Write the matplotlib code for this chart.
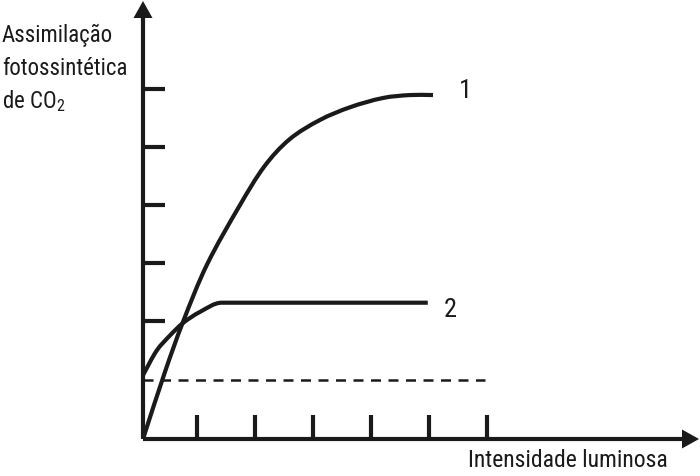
import matplotlib
matplotlib.use("Agg")
import math
import matplotlib.pyplot as plt
from matplotlib.path import Path
from matplotlib.patches import PathPatch

# ---- data (units: one tick spacing) ----
curve1_x = [0, 0.38, 0.69, 1.10, 1.67, 2.10, 2.53, 3.05, 3.57, 4.14, 4.60, 5.00]
curve1_y = [0, 1.16, 2.02, 3.00, 4.03, 4.71, 5.17, 5.50, 5.72, 5.88, 5.93, 5.93]

curve2_x = [0, 0.24, 0.47, 0.69, 0.98, 1.36, 4.91]
curve2_y = [1.10, 1.53, 1.79, 2.00, 2.19, 2.35, 2.35]

dashed_x = [0, 5.9]
dashed_y = [1.02, 1.02]

x_ticks = [0.93, 1.93, 2.93, 3.93, 4.93, 5.93]
y_ticks = [2.03, 3.03, 4.03, 5.03, 6.03]

y_label = ["Assimilação", "fotossintética", "de CO$_2$"]
x_label = "Intensidade luminosa"

FONT = "Roboto Condensed"
plt.rcParams["font.family"] = [FONT, "DejaVu Sans"]
plt.rcParams["mathtext.fontset"] = "custom"
plt.rcParams["mathtext.rm"] = FONT
plt.rcParams["mathtext.it"] = FONT

W, H = 700, 476
PX = 58.0          # pixels per unit
X0, Y0 = 143, 439  # origin in pixels (from top-left)


def ux(px):
    return (px - X0) / PX


def uy(py):
    return (Y0 - py) / PX


def smooth_path(xs, ys, straight_last=False):
    # smooth cubic Beziers through the read points (tangent from neighbours)
    pts = list(zip(xs, ys))
    n = len(pts)

    def tangent(i):
        a = pts[max(i - 1, 0)]
        b = pts[min(i + 1, n - 1)]
        if straight_last and i == n - 2:
            a = pts[i]
        dx, dy = b[0] - a[0], b[1] - a[1]
        d = math.hypot(dx, dy)
        return dx / d, dy / d

    verts = [pts[0]]
    codes = [Path.MOVETO]
    for i in range(n - 1):
        p1, p2 = pts[i], pts[i + 1]
        if straight_last and i == n - 2:
            verts.append(p2)
            codes.append(Path.LINETO)
            continue
        seg = math.hypot(p2[0] - p1[0], p2[1] - p1[1]) / 3
        t1, t2 = tangent(i), tangent(i + 1)
        c1 = (p1[0] + t1[0] * seg, p1[1] + t1[1] * seg)
        c2 = (p2[0] - t2[0] * seg, p2[1] - t2[1] * seg)
        verts += [c1, c2, p2]
        codes += [Path.CURVE4] * 3
    return Path(verts, codes)


fig = plt.figure(figsize=(W / 100, H / 100), dpi=100)
ax = fig.add_axes([0, 0, 1, 1])
ax.set_xlim(ux(0), ux(W))
ax.set_ylim(uy(H), uy(0))
ax.axis("off")

k = "#1a1a1a"
lw = 3.0

# axes with arrows
top = uy(1)
right = ux(699)
head_l = 17 / PX
head_w = 9.5 / PX
ax.plot([0, 0], [0, top - head_l + 0.02], color=k, lw=lw, solid_capstyle="butt")
ax.plot([0, right - head_l + 0.02], [0, 0], color=k, lw=lw, solid_capstyle="butt")
ax.fill([-head_w, head_w, 0], [top - head_l, top - head_l, top], color=k, lw=0)
ax.fill([right - head_l, right - head_l, right], [-head_w, head_w, 0], color=k, lw=0)

# ticks
ax.vlines(x_ticks, 0, 24 / PX, color=k, lw=lw)
ax.hlines(y_ticks, 0, 22 / PX, color=k, lw=lw)

# curves
for xs, ys, flat in [(curve1_x, curve1_y, False), (curve2_x, curve2_y, True)]:
    ax.add_patch(PathPatch(smooth_path(xs, ys, flat), facecolor="none", edgecolor=k,
                           lw=lw, capstyle="butt", joinstyle="round"))
ax.plot(dashed_x, dashed_y, color=k, lw=1.8, dashes=(4, 3))

# labels
ax.text(ux(465), uy(98), "1", fontsize=19, ha="center", va="baseline", color=k)
ax.text(ux(450), uy(317), "2", fontsize=19, ha="center", va="baseline", color=k)
for line, base in zip(y_label, [42, 75, 108]):
    ax.text(ux(2), uy(base), line, fontsize=16.5, ha="left", va="baseline", color=k)
ax.text(ux(468), uy(467), x_label, fontsize=17, ha="left", va="baseline", color=k)

fig.savefig("out.png", dpi=100)
